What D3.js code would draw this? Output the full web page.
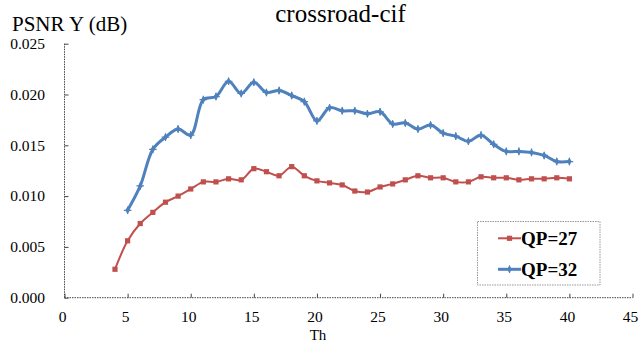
<!DOCTYPE html>
<html>
<head>
<meta charset="utf-8">
<script src="https://cdn.jsdelivr.net/npm/d3@7"></script>
<style>
  html, body { margin: 0; padding: 0; background: #fff; }
  svg { display: block; }
  text { font-family: "Liberation Serif", "Times New Roman", serif; fill: #000; }
</style>
</head>
<body>
<svg id="chart" width="639" height="347"></svg>
<script>
// Threshold values (Th) for each series
const thQP27 = [4, 5, 6, 7, 8, 9, 10, 11, 12, 13, 14, 15, 16, 17, 18, 19, 20, 21, 22,
  23, 24, 25, 26, 27, 28, 29, 30, 31, 32, 33, 34, 35, 36, 37, 38, 39, 40];
const psnrQP27 = [0.0028, 0.0056, 0.0073, 0.0084, 0.0094, 0.0100, 0.0107, 0.0114, 0.0114,
  0.0117, 0.0116, 0.0127, 0.0124, 0.0120, 0.0129, 0.0120, 0.0115, 0.0113, 0.0111,
  0.0105, 0.0104, 0.0109, 0.0112, 0.0116, 0.0120, 0.0118, 0.0118, 0.0114, 0.0114,
  0.0119, 0.0118, 0.0118, 0.0116, 0.0117, 0.0117, 0.0118, 0.0117];

const thQP32 = [5, 6, 7, 8, 9, 10, 11, 12, 13, 14, 15, 16, 17, 18, 19, 20, 21, 22,
  23, 24, 25, 26, 27, 28, 29, 30, 31, 32, 33, 34, 35, 36, 37, 38, 39, 40];
const psnrQP32 = [0.0086, 0.0110, 0.0146, 0.0158, 0.0166, 0.0160, 0.0195, 0.0198, 0.0213,
  0.0201, 0.0212, 0.0202, 0.0204, 0.0199, 0.0193, 0.0174, 0.0187, 0.0184, 0.0184,
  0.0181, 0.0183, 0.0171, 0.0172, 0.0166, 0.0170, 0.0162, 0.0159, 0.0154, 0.0160,
  0.0151, 0.0144, 0.0144, 0.0143, 0.0140, 0.0134, 0.0134];

const xTicks = [0, 5, 10, 15, 20, 25, 30, 35, 40, 45];
const yTicks = [0, 0.005, 0.010, 0.015, 0.020, 0.025];

const seriesNames = ["QP=27", "QP=32"];
const seriesColors = ["#C0504D", "#4F81BD"];

const serif = "'Liberation Serif', 'Times New Roman', serif";
const svg = d3.select("#chart").attr("font-family", serif);

const x = d3.scaleLinear().domain([0, 45]).range([64.5, 632.5]);
const y = d3.scaleLinear().domain([0, 0.025]).range([297.7, 43.7]);

const axisColor = "#444";

// Y axis: dotted line with inward ticks
const yAxis = svg.append("g").attr("transform", `translate(${x(0)},0)`)
  .call(d3.axisRight(y).tickValues(yTicks).tickSize(4).tickFormat(""));
yAxis.select(".domain").remove();
yAxis.selectAll(".tick line").attr("stroke", axisColor).attr("stroke-width", 1);
svg.append("line")
  .attr("x1", x(0)).attr("x2", x(0)).attr("y1", y(0.025)).attr("y2", y(0))
  .attr("stroke", axisColor).attr("stroke-width", 1).attr("stroke-dasharray", "1.5,1");

svg.append("g").selectAll("text").data(yTicks).join("text")
  .attr("font-family", serif)
  .attr("x", 45).attr("y", d => y(d)).attr("dy", "0.34em")
  .attr("text-anchor", "end").attr("font-size", 15.5)
  .text(d3.format(".3f"));

// X axis: dotted line with inward ticks
const xAxis = svg.append("g").attr("transform", `translate(0,${y(0)})`)
  .call(d3.axisTop(x).tickValues(xTicks).tickSize(4).tickFormat(""));
xAxis.select(".domain").remove();
xAxis.selectAll(".tick line").attr("stroke", axisColor).attr("stroke-width", 1);
svg.append("line")
  .attr("x1", x(0)).attr("x2", x(45)).attr("y1", y(0)).attr("y2", y(0))
  .attr("stroke", axisColor).attr("stroke-width", 1).attr("stroke-dasharray", "1.5,1");

svg.append("g").selectAll("text").data(xTicks).join("text")
  .attr("font-family", serif)
  .attr("x", d => x(d) - 2).attr("y", 321.5)
  .attr("text-anchor", "middle").attr("font-size", 15.5)
  .text(d => d);

// Titles
svg.append("text").attr("font-family", serif).attr("x", 340.5).attr("y", 22)
  .attr("text-anchor", "middle").attr("font-size", 25).text("crossroad-cif");
svg.append("text").attr("font-family", serif).attr("x", 12).attr("y", 31)
  .attr("font-size", 21).text("PSNR Y (dB)");
svg.append("text").attr("font-family", serif).attr("x", 318).attr("y", 340)
  .attr("text-anchor", "middle").attr("font-size", 15).text("Th");

// Series
const line = d3.line().x(d => x(d[0])).y(d => y(d[1])).curve(d3.curveCatmullRom.alpha(0.5));

const red = d3.zip(thQP27, psnrQP27);
const blue = d3.zip(thQP32, psnrQP32);

// Star-like marker for the QP=32 series: small diamond with a thin cross
function blueMarker(sel) {
  sel.append("path").attr("d", d3.symbol(d3.symbolDiamond, 18)()).attr("fill", seriesColors[1]);
  sel.append("path").attr("d", "M-3.8,0H3.8M0,-3.8V3.8")
    .attr("stroke", seriesColors[1]).attr("stroke-width", 1.2);
}

svg.append("path").datum(blue).attr("d", line).attr("fill", "none")
  .attr("stroke", seriesColors[1]).attr("stroke-width", 3).attr("stroke-linejoin", "round");
svg.append("g").selectAll("g").data(blue).join("g")
  .attr("transform", d => `translate(${x(d[0])},${y(d[1])})`)
  .call(blueMarker);

svg.append("path").datum(red).attr("d", line).attr("fill", "none")
  .attr("stroke", seriesColors[0]).attr("stroke-width", 2).attr("stroke-linejoin", "round");
svg.append("g").selectAll("rect").data(red).join("rect")
  .attr("x", d => x(d[0]) - 2.6).attr("y", d => y(d[1]) - 2.6)
  .attr("width", 5.2).attr("height", 5.2)
  .attr("fill", seriesColors[0]);

// Legend
const lg = svg.append("g");
lg.append("rect").attr("x", 477.5).attr("y", 221.5).attr("width", 122.5).attr("height", 63.5)
  .attr("fill", "#fff").attr("stroke", "#999").attr("stroke-width", 1)
  .attr("stroke-dasharray", "1.5,1");
const legendRows = [238.3, 269.3];
seriesNames.forEach((name, i) => {
  const yy = legendRows[i];
  lg.append("line").attr("x1", 498).attr("x2", 521).attr("y1", yy).attr("y2", yy)
    .attr("stroke", seriesColors[i]).attr("stroke-width", i === 0 ? 2 : 3);
  if (i === 0) {
    lg.append("rect").attr("x", 509.5 - 2.6).attr("y", yy - 2.6).attr("width", 5.2).attr("height", 5.2)
      .attr("fill", seriesColors[i]);
  } else {
    lg.append("g").attr("transform", `translate(509.5,${yy})`).call(blueMarker);
  }
  lg.append("text").attr("font-family", serif).attr("x", 521).attr("y", yy + 6.8)
    .attr("font-size", 19).attr("font-weight", "bold").text(name);
});
</script>
</body>
</html>
